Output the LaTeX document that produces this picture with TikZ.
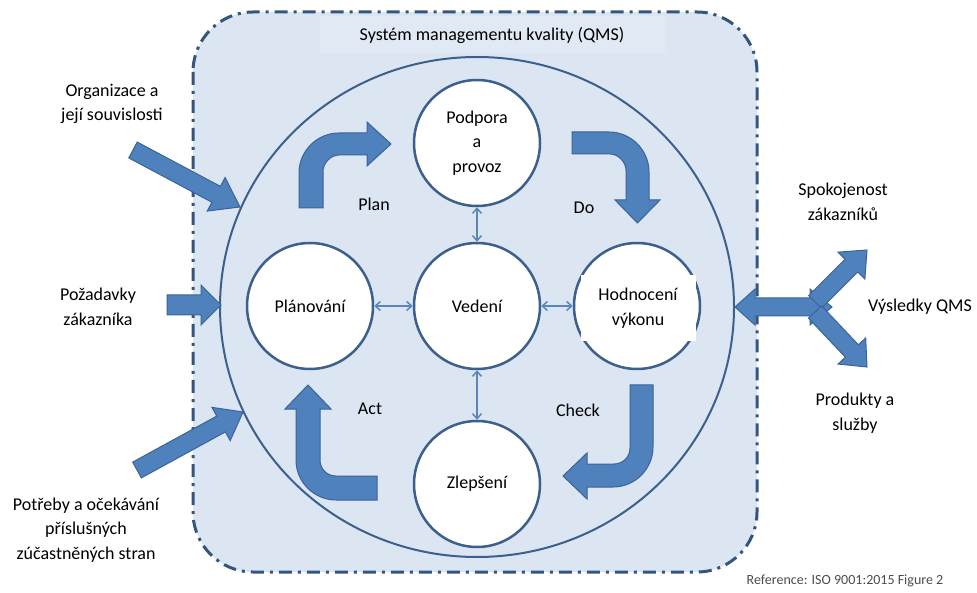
\documentclass[tikz,border=0pt]{standalone}
\usepackage{fontspec}
\setmainfont{Carlito}
\usepackage{tikz}
\usetikzlibrary{arrows.meta,positioning,calc}

\definecolor{panelfill}{HTML}{DCE6F2}
\definecolor{titlefill}{HTML}{E0E9F4}
\definecolor{framecol}{HTML}{34557E}
\definecolor{ringcol}{HTML}{3C5F8C}
\definecolor{arrowfill}{HTML}{4F81BD}
\definecolor{arrowline}{HTML}{3A6499}
\definecolor{linkcol}{HTML}{5A86BB}

% straight block arrow: tail, tip, half shaft, half head, head length
\newcommand{\blockarrow}[5]{%
  \coordinate (ba-h) at ($(#2)!#5!(#1)$);
  \draw[blockarr] ($(#1)!#3!90:(#2)$) -- ($(ba-h)!#3!90:(#2)$)
    -- ($(ba-h)!#4!90:(#2)$) -- (#2) -- ($(ba-h)!#4!-90:(#2)$)
    -- ($(ba-h)!#3!-90:(#2)$) -- ($(#1)!#3!-90:(#2)$) -- cycle;
}

\begin{document}
\begin{tikzpicture}[
  x=1pt, y=-1pt,
  font=\fontsize{18}{24.5}\selectfont,
  every node/.style={align=center},
  stage/.style={circle, draw=ringcol, line width=2.5pt, fill=white,
                minimum size=126pt, inner sep=0pt},
  blockarr/.style={fill=arrowfill, draw=arrowline, line width=1pt, line join=miter},
  link/.style={{Straight Barb[length=5pt,width=9pt]}-{Straight Barb[length=5pt,width=9pt]},
               draw=linkcol, line width=1.5pt}
]
\useasboundingbox (0,0) rectangle (977,593);

% QMS frame
\draw[framecol, line width=3pt, dash pattern=on 13pt off 6pt on 3pt off 6pt,
      fill=panelfill, rounded corners=60pt] (193,12) rectangle (757,572);
\node[fill=titlefill, minimum width=345pt, minimum height=37pt] (qms) at (492,35)
     {Systém managementu kvality (QMS)};
\draw[ringcol, line width=2pt] (477,307) ellipse [x radius=257, y radius=250];

% PDCA cycle
\draw[blockarr] (299,208) -- (299,173) .. controls (299,151) and (317,133) .. (339,133)
  -- (367,133) -- (367,122) -- (391,144) -- (367,166) -- (367,155) -- (339,155)
  .. controls (330,155) and (323,164) .. (323,171) -- (323,208) -- cycle;
\draw[blockarr] (572,132) -- (609,132) .. controls (631,132) and (649,150) .. (649,172)
  -- (649,200) -- (660,200) -- (637.5,223) -- (615,200) -- (626,200) -- (626,170)
  .. controls (626,163) and (619,154) .. (610,154) -- (572,154) -- cycle;
\draw[blockarr] (630,385) -- (653,385) -- (653,447) .. controls (653,469) and (635,487) .. (613,487)
  -- (587,487) -- (587,499) -- (563,476) -- (587,453) -- (587,464) -- (614,464)
  .. controls (623,464) and (630,457) .. (630,448) -- cycle;
\draw[blockarr] (377,500) -- (336,500) .. controls (314,500) and (296,482) .. (296,460)
  -- (296,409) -- (285,409) -- (308,385) -- (331,409) -- (320,409) -- (320,460)
  .. controls (320,469) and (327,476) .. (336,476) -- (377,476) -- cycle;

\node (plan)  at (374,204) {Plan};
\node (do)    at (584,208) {Do};
\node (act)   at (370,409) {Act};
\node (check) at (578,410) {Check};

\node[stage] (podpora)   at (477,143) {Podpora\\a\\provoz};
\node[stage] (planovani) at (310,306) {Plánování};
\node[stage] (vedeni)    at (477,306) {Vedení};
\node[stage] (hodnoceni) at (637,306) {};
\node[fill=white, minimum width=115pt, minimum height=66pt] (hodnoceni-text)
     at (638,308) {Hodnocení\\výkonu};
\node[stage] (zlepseni)  at (477,484) {Zlepšení};

\draw[link] (podpora)   -- (vedeni);
\draw[link] (vedeni)    -- (zlepseni);
\draw[link] (planovani) -- (vedeni);
\draw[link] (vedeni)    -- (hodnoceni);

% inputs
\node (org)     at (112,104) {Organizace a\\její souvislosti};
\node (pozad)   at (98,307)  {Požadavky\\zákazníka};
\node (potreby) at (86,530)  {Potřeby a očekávání\\příslušných\\zúčastněných stran};

\coordinate (org-s) at (133,150);   \coordinate (org-t) at (240,207);
\coordinate (poz-s) at (167,305);   \coordinate (poz-t) at (221,305);
\coordinate (pot-s) at (137,470);   \coordinate (pot-t) at (243,412);
\blockarrow{org-s}{org-t}{9pt}{19pt}{27pt}
\blockarrow{poz-s}{poz-t}{10pt}{20pt}{20pt}
\blockarrow{pot-s}{pot-t}{9pt}{19pt}{25pt}

% outputs
\draw[blockarr] (735,307) -- (755,289) -- (755,298) -- (810,298) -- (810,289) -- (832,307)
  -- (810,325) -- (810,316) -- (755,316) -- (755,325) -- cycle;
\coordinate (out-s)  at (815,302);  \coordinate (spok-t) at (867,250);
\coordinate (out-s2) at (815,312);  \coordinate (prod-t) at (867,367);
\blockarrow{out-s}{spok-t}{9pt}{19pt}{22pt}
\blockarrow{out-s2}{prod-t}{9pt}{19pt}{22pt}

\node (spokoj)   at (843,202) {Spokojenost\\zákazníků};
\node (vysledky) at (920,307) {Výsledky QMS};
\node (produkty) at (855,413) {Produkty a\\služby};

\node[font=\fontsize{14}{17}\selectfont, text=black!70] (ref) at (845,581)
     {Reference: ISO 9001:2015 Figure 2};
\end{tikzpicture}
\end{document}
